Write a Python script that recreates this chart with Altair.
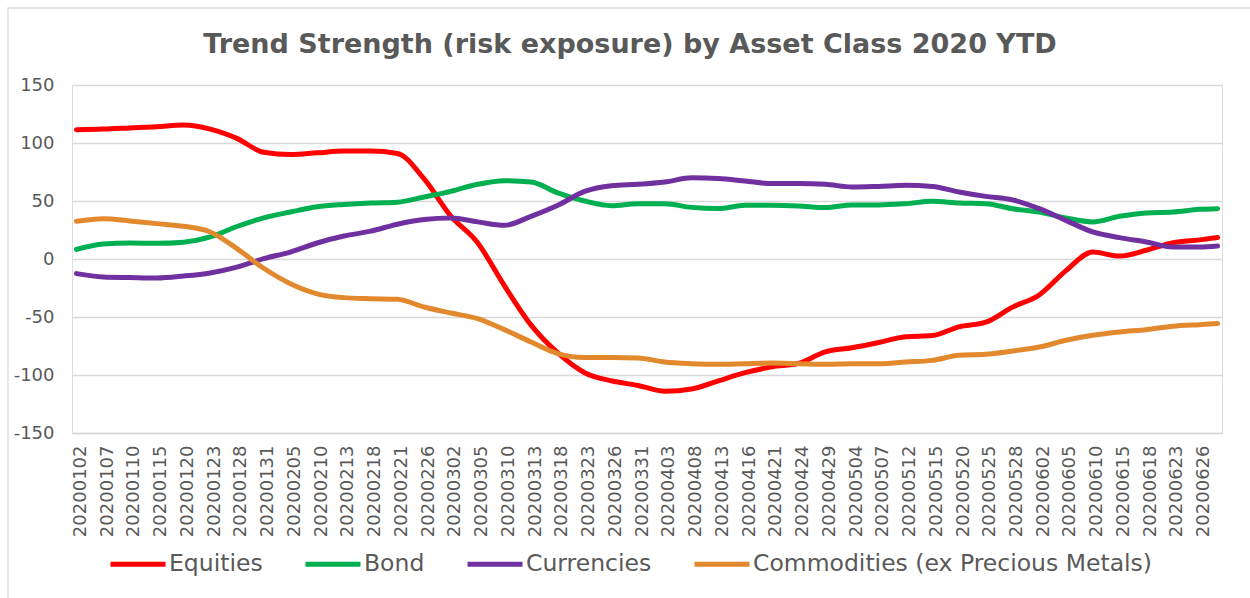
import altair as alt
import pandas as pd

# All weekdays of 2020 YTD shown on the category axis
all_dates = list(pd.bdate_range("2020-01-02", "2020-06-30").strftime("%Y%m%d"))

# Tick labels (every third weekday)
tick_labels = all_dates[0:127:3]

# Sample dates at which values were read (every 3rd weekday + last day)
sample_dates = tick_labels + [all_dates[-1]]

equities = [111.5, 112, 113, 114, 115.5, 112, 104, 92, 90, 91.5, 93, 93, 91, 69, 37,
            14, -23, -57, -81, -98, -105, -109, -114, -112, -105, -98, -93, -90, -80,
            -76.5, -72, -67, -66, -58.5, -54.5, -41.5, -31, -10, 6, 2.5, 7.5, 14, 16.5, 18.5]
bond = [8.3, 13, 13.8, 13.5, 14.5, 19, 28, 35.5, 40.5, 45, 47, 48.3, 49, 53.5, 58.3,
        64.4, 67.5, 66.4, 57, 50, 46, 47.7, 47.7, 44.5, 43.5, 46.3, 46.3, 45.7, 44.3,
        46.6, 46.6, 47.7, 49.7, 48.3, 47.7, 43.4, 40.5, 35.3, 32, 36.8, 39.7, 40.5, 42.8, 43.4]
currencies = [-12.6, -15.5, -16, -16.4, -14.7, -12, -7, 0.3, 6, 13.8, 19.8, 24, 30, 34, 35.3,
              32, 29, 36.8, 46.3, 58.3, 63.2, 64.4, 66.4, 70, 69.3, 67.2, 65, 65, 64.4,
              62, 62.6, 63.5, 62.6, 57.8, 54, 51, 43.4, 33.3, 23.3, 18.4, 14.7, 10.3, 10.3, 11.2]
commodities = [32.5, 34.8, 32.8, 30.5, 28.2, 23.3, 9, -8, -21.3, -30, -33.3, -34.2, -34.8, -41.4, -46.6,
               -51.4, -60.9, -71.6, -81.6, -85, -85, -85.3, -88.8, -90.2, -90.8, -90.2, -89.7, -90.2, -90.8,
               -90.2, -90.2, -88.8, -87.4, -83, -82.2, -79.3, -75.9, -70.1, -65.8, -62.9, -60.9, -58, -56.6, -55.7]

series_names = ["Equities", "Bond", "Currencies", "Commodities (ex Precious Metals)"]
series_values = [equities, bond, currencies, commodities]
series_colors = ["#FF0000", "#00B050", "#7030A0", "#E2892E"]

y_ticks = [-150, -100, -50, 0, 50, 100, 150]
title_text = "Trend Strength (risk exposure) by Asset Class 2020 YTD"

rows = []
for name, vals in zip(series_names, series_values):
    for d, v in zip(sample_dates, vals):
        rows.append({"date": d, "value": v, "series": name})
df = pd.DataFrame(rows)

FONT = "DejaVu Sans"
TXT = "#595959"
GRID = "#D9D9D9"

lines = alt.Chart(df).mark_line(
    interpolate="monotone", strokeWidth=5, strokeCap="round", strokeJoin="round"
).encode(
    x=alt.X("date:O", sort=all_dates,
            scale=alt.Scale(domain=all_dates, padding=0.5),
            axis=alt.Axis(values=tick_labels, title=None, labelAngle=270, labelAlign="right",
                          labelBaseline="middle", labelFontSize=18, labelColor=TXT, labelFont=FONT,
                          labelPadding=12, labelOffset=4, ticks=False, domainColor=GRID, domainWidth=1.3,
                          labelOverlap=False, grid=False)),
    y=alt.Y("value:Q", scale=alt.Scale(domain=[-150, 150], nice=False, zero=False),
            axis=alt.Axis(values=y_ticks, title=None, labelFontSize=18, labelExpr="'' + datum.value",
                          labelColor=TXT, labelFont=FONT, labelPadding=18, ticks=False, domain=False,
                          gridColor=GRID, gridWidth=1.3)),
    color=alt.Color("series:N", sort=series_names,
                    scale=alt.Scale(domain=series_names, range=series_colors),
                    legend=alt.Legend(title=None, orient="none", legendX=36, legendY=449,
                                      direction="horizontal", symbolType="stroke", symbolSize=3025,
                                      symbolStrokeWidth=5, labelFontSize=23.5, labelColor=TXT,
                                      labelFont=FONT, labelOffset=1, columnPadding=32,
                                      labelLimit=600)),
)

frame = alt.Chart(pd.DataFrame({"k": [0]})).mark_rect(
    fill=None, stroke=GRID, strokeWidth=1.3
).encode(
    x=alt.value(-64), x2=alt.value(1200), y=alt.value(-77), y2=alt.value(560)
)

title = alt.Chart(pd.DataFrame({"t": [title_text]})).mark_text(
    font=FONT, fontSize=27, fontWeight="bold", color=TXT, align="center", baseline="middle"
).encode(
    text="t:N", x=alt.value(558), y=alt.value(-40)
)

chart = alt.layer(frame, lines, title).properties(
    width=1150, height=348,
    padding={"left": 72, "top": 85, "right": 28, "bottom": 165},
    autosize=alt.AutoSizeParams(type="none"),
).configure_view(stroke=None).configure(background="white")

chart.save("out.html", embed_options={"renderer": "svg", "actions": False})
